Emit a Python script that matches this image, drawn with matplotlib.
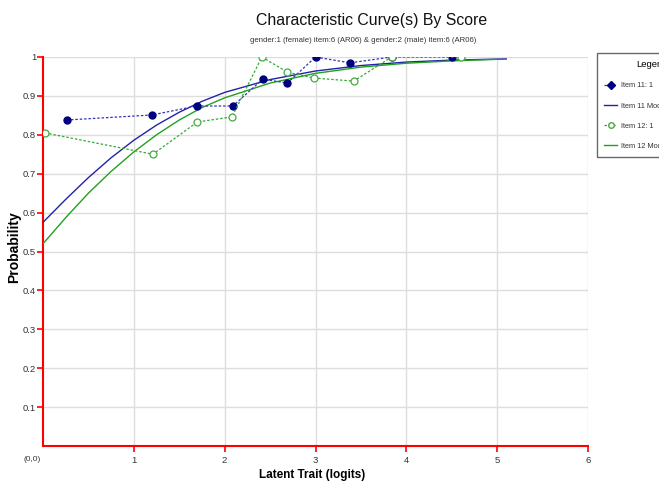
import matplotlib
matplotlib.use("Agg")
import matplotlib.pyplot as plt
from matplotlib.lines import Line2D
from matplotlib import font_manager

# ---- data ----
item11_x = [0.26, 1.20, 1.69, 2.09, 2.42, 2.69, 3.00, 3.38, 3.84, 4.50]
item11_y = [0.838, 0.851, 0.874, 0.874, 0.943, 0.933, 1.0, 0.985, 1.0, 1.0]

item12_x = [0.02, 1.21, 1.70, 2.08, 2.41, 2.69, 2.98, 3.42, 3.84, 4.60]
item12_y = [0.805, 0.750, 0.833, 0.846, 1.0, 0.961, 0.946, 0.938, 1.0, 1.0]

model11_x = [0.0, 0.25, 0.5, 0.75, 1.0, 1.25, 1.5, 1.75, 2.0, 2.5, 3.0, 3.5, 4.0, 4.5, 5.1]
model11_y = [0.575, 0.634, 0.690, 0.741, 0.786, 0.825, 0.858, 0.886, 0.909, 0.942, 0.964,
             0.978, 0.987, 0.992, 0.995]

model12_x = [0.0, 0.25, 0.5, 0.75, 1.0, 1.25, 1.5, 1.75, 2.0, 2.5, 3.0, 3.5, 4.0, 4.5, 5.0]
model12_y = [0.520, 0.587, 0.650, 0.706, 0.756, 0.800, 0.838, 0.870, 0.895, 0.933, 0.958,
             0.974, 0.984, 0.990, 0.994]

x_ticks = [1, 2, 3, 4, 5, 6]
y_ticks = [0.1, 0.2, 0.3, 0.4, 0.5, 0.6, 0.7, 0.8, 0.9, 1.0]
y_ticklabels = ["0.1", "0.2", "0.3", "0.4", "0.5", "0.6", "0.7", "0.8", "0.9", "1"]
legend_labels = ["Item 11: 1", "Item 11 Model", "Item 12: 1", "Item 12 Model"]

names = {f.name for f in font_manager.fontManager.ttflist}
has_narrow = "Liberation Sans Narrow" in names
narrow = ["Liberation Sans Narrow", "Liberation Sans", "DejaVu Sans"] if has_narrow else ["Liberation Sans", "DejaVu Sans"]
k = 1.0 if has_narrow else 0.85
plt.rcParams['font.family'] = ["Liberation Sans", "DejaVu Sans"]

W, H = 659, 484
fig = plt.figure(figsize=(W / 100, H / 100), dpi=100)
ax = fig.add_axes([43 / W, (H - 446) / H, (588 - 43) / W, (446 - 57) / H])

blue = "#00007f"

ax.plot(model11_x, model11_y, color="#2222aa", lw=1.0, zorder=3)
ax.plot(model12_x, model12_y, color="#22a022", lw=1.0, zorder=3)
ax.plot(item11_x, item11_y, color="#3333bb", lw=0.9, ls=(0, (2, 1.5)),
        marker="o", ms=5, mfc=blue, mec=blue, zorder=4)
ax.plot(item12_x, item12_y, color="#33aa33", lw=0.9, ls=(0, (2, 1.5)),
        marker="o", ms=5, mfc="white", mec="#44aa44", mew=0.9, zorder=4)

ax.set_xlim(0, 6)
ax.set_ylim(0, 1)
ax.set_xticks(x_ticks)
ax.set_xticklabels([str(t) for t in x_ticks], family=narrow, fontsize=8 * k, color="#333333")
ax.set_yticks(y_ticks)
ax.set_yticklabels(y_ticklabels, family=narrow, fontsize=8 * k, color="#333333")
ax.grid(True, color="#dddddd", lw=1.0, zorder=0)
ax.set_axisbelow(True)
for s in ["top", "right"]:
    ax.spines[s].set_visible(False)
for s in ["left", "bottom"]:
    ax.spines[s].set_color("red")
    ax.spines[s].set_linewidth(1.5)
ax.tick_params(axis="both", colors="red", length=4, width=1.2, labelcolor="#333333")
ax.tick_params(axis="x", pad=3)
ax.tick_params(axis="y", pad=1)

ax.text(-0.03, -0.025, "(0,0)", transform=ax.transData, ha="right", va="top",
        family=narrow, fontsize=7 * k, color="#333333")

ax.set_xlabel("Latent Trait (logits)", fontsize=10 * k, fontweight="bold", family=narrow)
ax.xaxis.set_label_coords((312 - 43) / (588 - 43), -(469 - 446) / (446 - 57))
ax.set_ylabel("Probability", fontsize=10, fontweight="bold")
ax.yaxis.set_label_coords(-(43 - 21) / (588 - 43), (446 - 247) / (446 - 57))

fig.text(372 / W, 1 - 20 / H, "Characteristic Curve(s) By Score", ha="center", va="center",
         fontsize=13.5 * k, family=narrow, color="#111111")
fig.text(363 / W, 1 - 40 / H,
         "gender:1 (female) item:6 (AR06) & gender:2 (male) item:6 (AR06)",
         ha="center", va="center", fontsize=6.6 * k, family=narrow, color="#333333")

handles = [
    Line2D([], [], color="#3333bb", lw=0.9, ls=(0, (2, 1.5)), marker="D", ms=4, mfc=blue, mec=blue),
    Line2D([], [], color="#2222aa", lw=1.0),
    Line2D([], [], color="#33aa33", lw=0.9, ls=(0, (2, 1.5)), marker="o", ms=4, mfc="white", mec="#44aa44"),
    Line2D([], [], color="#22a022", lw=1.0),
]
leg = fig.legend(handles, legend_labels, loc="upper left",
                 bbox_to_anchor=(597 / W, 1 - 53 / H), title="Legend",
                 prop={"family": narrow, "size": 6.2 * k},
                 title_fontproperties={"family": narrow, "size": 8 * k},
                 frameon=True, fancybox=False, edgecolor="#444444", borderpad=1.0,
                 labelspacing=1.78, handlelength=1.8, handletextpad=0.5, borderaxespad=0)
leg._legend_box.align = "right"
leg.get_frame().set_linewidth(1.0)
for t in leg.get_texts():
    t.set_color("#333333")

fig.savefig("out.png", dpi=100)
